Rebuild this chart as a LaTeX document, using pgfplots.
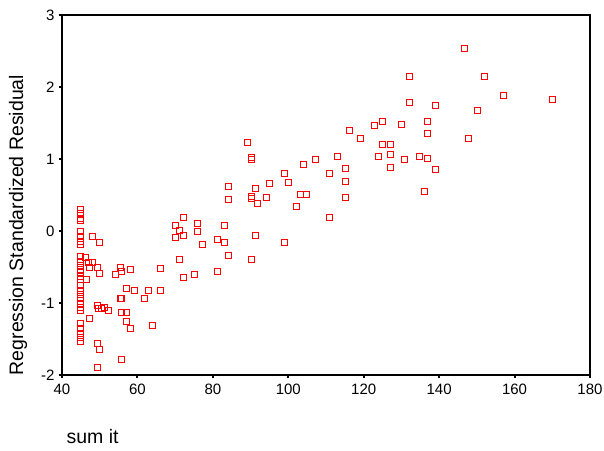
\documentclass[border=0pt]{standalone}
\usepackage{pgfplots}
\usepackage{pgfplotstable}
\pgfplotsset{compat=1.18}
\usepackage{fontspec}
\setmainfont{Liberation Sans}
\definecolor{sred}{RGB}{255,0,0}
\pgfplotstableread{
x y
45 0.30
45 0.25
45 0.18
45 0.15
45 0.0
45 -0.08
45 -0.14
45 -0.19
45 -0.35
45 -0.42
45 -0.48
45 -0.53
45 -0.58
45 -0.63
45 -0.68
45 -0.75
45 -0.82
45 -0.88
45 -0.94
45 -1.0
45 -1.06
45 -1.11
45 -1.29
45 -1.35
45 -1.42
45 -1.48
45 -1.54
46.2 -0.37
47.0 -0.44
47.2 -0.50
46.5 -0.67
48.2 -0.08
50.0 -0.16
48.2 -0.44
49.3 -0.50
50.0 -0.59
49.3 -1.03
49.7 -1.07
50.5 -1.07
51.3 -1.06
52.2 -1.11
47.2 -1.22
49.3 -1.56
50.0 -1.64
49.3 -1.90
54.3 -0.61
55.4 -0.50
55.9 -0.56
58.1 -0.54
57.1 -0.80
59.2 -0.82
55.4 -0.94
55.9 -0.94
55.9 -1.13
57.1 -1.13
57.1 -1.26
58.1 -1.35
55.9 -1.79
62.0 -0.94
63.0 -0.82
64.1 -1.31
66.2 -0.52
66.2 -0.82
70.2 0.08
71.2 0.01
70.2 -0.09
72.3 0.19
72.3 -0.06
71.2 -0.40
72.3 -0.65
76.0 0.11
76.0 0.00
77.2 -0.19
75.0 -0.61
81.1 -0.12
81.1 -0.56
83.2 0.08
83.2 -0.16
84.1 -0.34
84.1 0.62
84.1 0.44
89.2 1.23
90.2 1.02
90.2 0.99
90.2 0.48
90.2 0.45
90.2 -0.40
91.2 0.59
91.2 -0.06
91.9 0.38
94.1 0.47
95.1 0.66
99.0 0.80
99.0 -0.16
100.1 0.68
102.1 0.34
103.3 0.51
104.0 0.93
104.8 0.51
107.1 1.00
111.0 0.80
111.0 0.19
113.0 1.03
115.1 0.87
115.1 0.69
115.1 0.46
116.2 1.39
119.1 1.29
122.9 1.46
124.0 1.03
125.0 1.52
125.0 1.20
127.0 1.20
127.0 1.06
127.0 0.88
129.9 1.48
130.9 0.99
132.2 2.15
132.2 1.79
134.9 1.03
136.0 0.55
136.8 1.52
136.8 1.35
136.8 1.01
139.1 1.75
139.1 0.86
146.8 2.53
147.8 1.29
150.1 1.68
152.1 2.15
157.1 1.88
170.1 1.83
}\resid
\begin{document}
\begin{tikzpicture}[x=1pt,y=1pt]
\useasboundingbox (-62,-75) rectangle (542,375);
\begin{axis}[
  at={(0,0)}, anchor=south west,
  scale only axis, width=528pt, height=360pt,
  xmin=40, xmax=180, ymin=-2, ymax=3,
  xtick={40,60,...,180}, ytick={-2,-1,0,1,2,3},
  xtick pos=left, ytick pos=left,
  tick align=outside, major tick length=3pt,
  tick style={black, line width=2pt},
  axis line style={black, line width=1.3pt},
  /pgf/number format/assume math mode=true,
  ticklabel style={font=\fontsize{15}{17}\selectfont},
  xticklabel style={yshift=-2pt},
  yticklabel style={xshift=-1pt},
  xlabel={sum it},
  ylabel={Regression Standardized Residual},
  label style={font=\fontsize{19.5}{22}\selectfont},
  xlabel style={at={(axis description cs:0.002,-0.1722)}, anchor=west},
  ylabel style={at={(axis description cs:-0.0833,0.4167)}, anchor=center},
  clip=false,
]
\addplot[only marks, color=sred, mark=square, mark size=3pt, line width=1pt,
  nodes near coords={},
  every node near coord/.style={draw=sred, line width=1pt, rectangle,
    minimum size=6pt, inner sep=0pt, anchor=center, fill=none}] table {\resid};
\end{axis}
\end{tikzpicture}
\end{document}
